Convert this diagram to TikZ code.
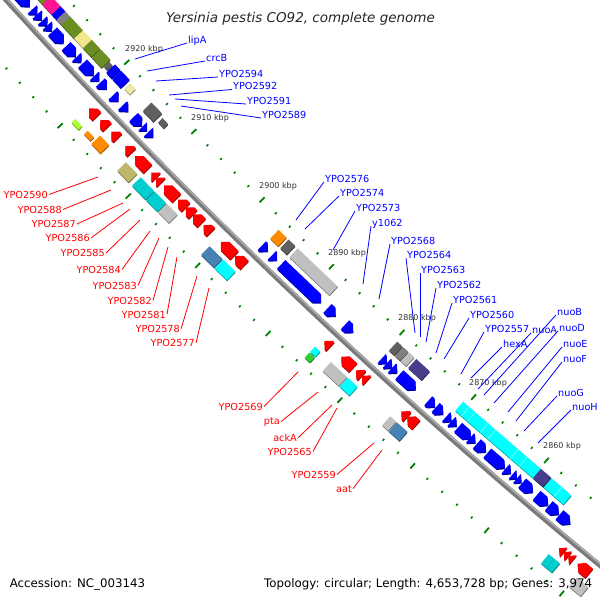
\documentclass[tikz,border=0pt]{standalone}
\usepackage{fontspec}
\setmainfont{DejaVu Sans}
\definecolor{cB}{HTML}{0000FF}
\definecolor{cR}{HTML}{FF0000}
\definecolor{cLG}{HTML}{C0C0C0}
\definecolor{cG}{HTML}{808080}
\definecolor{cDG}{HTML}{606060}
\definecolor{cCy}{HTML}{00FFFF}
\definecolor{cDT}{HTML}{00CED1}
\definecolor{cSB}{HTML}{4682B4}
\definecolor{cDSB}{HTML}{483D8B}
\definecolor{cOD}{HTML}{6B8E23}
\definecolor{cKh}{HTML}{F0E68C}
\definecolor{cPK}{HTML}{EEE8AA}
\definecolor{cDK}{HTML}{BDB76B}
\definecolor{cMg}{HTML}{FF1493}
\definecolor{cOr}{HTML}{FF8C00}
\definecolor{cGY}{HTML}{ADFF2F}
\definecolor{cLim}{HTML}{32CD32}
\definecolor{cTick}{HTML}{008000}
\definecolor{cBack}{HTML}{7A7A7A}
\definecolor{cBackL}{HTML}{ABABAB}
\newcommand{\cgat}[1]{%
 \pgfmathsetmacro\cgw{-12.73+0.0069*(#1)+((#1)/106.72)*((#1)/106.72)}%
 \pgfmathsetmacro\cga{atan(0.0069+(#1)/5695)}}
\newcommand{\cgB}[5]{%
 \pgfmathsetmacro\cguc{(#1+#2)/2}\pgfmathsetmacro\cgl{(#2-#1)/2}\pgfmathsetmacro\cghw{(#4)/2}%
 \cgat{\cguc}%
 \begin{scope}[shift={(\cguc,\cgw)},rotate=\cga,yshift=#3]
  \fill[#5!60!black] ({-\cgl+1},{-\cghw-0.7}) rectangle ({\cgl+1},{\cghw-0.7});
  \fill[#5] (-\cgl,-\cghw) rectangle (\cgl,\cghw);
 \end{scope}}
\newcommand{\cgArrow}[5]{%
 \pgfmathsetmacro\cguc{(#1+#2)/2}\pgfmathsetmacro\cgl{(#2-#1)/2}%
 \pgfmathsetmacro\cgk{\cgl-min(2*\cgl,6)}%
 \cgat{\cguc}%
 \begin{scope}[shift={(\cguc,\cgw)},rotate=\cga,yshift=#3,xscale=#5]
  \fill[#4!60!black,shift={(#5,-0.7)}] (-\cgl,-6) -- (\cgk,-6) -- (\cgl,0) -- (\cgk,6) -- (-\cgl,6) -- cycle;
  \fill[#4] (-\cgl,-6) -- (\cgk,-6) -- (\cgl,0) -- (\cgk,6) -- (-\cgl,6) -- cycle;
 \end{scope}}
\newcommand{\cgF}[2]{\cgArrow{#1}{#2}{13}{cB}{1}}
\newcommand{\cgR}[2]{\cgArrow{#1}{#2}{-13}{cR}{-1}}
\newcommand{\cgDiv}[3]{%
 \cgat{#1}%
 \begin{scope}[shift={(#1,\cgw)},rotate=\cga,yshift=#2]
  \draw[white!45!cCy,line width=0.7] (0,{-(#3)/2}) -- (0,{(#3)/2});
 \end{scope}}
\newcommand{\rlabel}[6]{\node[rlab] (#1) at (#3,-#4) {#2};
 \coordinate (#1-e) at (#5,-#6);
 \draw[rline] ([xshift=1pt]#1.east) -- (#1-e);}
\newcommand{\blabel}[6]{\node[blab] (#1) at (#3,-#4) {#2};
 \coordinate (#1-e) at (#5,-#6);
 \draw[bline] ([xshift=-1pt]#1.base west) -- (#1-e);}
\tikzset{
 rlab/.style={font=\fontsize{9.7}{11}\selectfont, text=cR, inner sep=0pt, anchor=base east},
 blab/.style={font=\fontsize{9.7}{11}\selectfont, text=cB, inner sep=0pt, anchor=base west},
 rline/.style={draw=cR, line width=0.8},
 bline/.style={draw=cB, line width=0.8},
 kbp/.style={font=\fontsize{8}{9}\selectfont, text=black!80, inner sep=0pt, anchor=base west},
}
\begin{document}
\begin{tikzpicture}[x=1pt,y=1pt]
\useasboundingbox (0,0) rectangle (600,-600);
\clip (0,0) rectangle (600,-600);
\begin{scope}[shift={(303.5,-286)},rotate=-43.96]
% ruler ticks
\foreach \p in {2840,2842,...,2940}{%
 \pgfmathsetmacro\ub{-284.5+(2920-\p)*9.72}%
 \pgfmathtruncatemacro\isd{mod(\p,10)==0 ? 1 : 0}%
 \cgat{\ub}%
 \begin{scope}[shift={(\ub,\cgw)},rotate=\cga]
  \ifnum\isd=1
   \fill[cTick] (-0.9,42.5) rectangle (0.9,49.5);
   \fill[cTick] (-0.9,-49.5) rectangle (0.9,-42.5);
  \else
   \fill[cTick] (-0.8,44.8) rectangle (0.8,47.2);
   \fill[cTick] (-0.8,-47.2) rectangle (0.8,-44.8);
  \fi
 \end{scope}}
% backbone
\draw[line width=5, cBack] plot[domain=-460:460,samples=60] (\x,{-12.73+0.0069*\x+(\x/106.72)^2});
\draw[line width=1.6, cBackL] plot[domain=-460:460,samples=60] (\x,{-11.3+0.0069*\x+(\x/106.72)^2});
% forward CDS (blue)
\cgF{-408}{-392}
\cgF{-388}{-381}\cgF{-381}{-374}
\cgF{-373}{-366}\cgF{-366}{-359}
\cgF{-358}{-342}
\cgF{-338}{-324}
\cgF{-323}{-316}
\cgF{-314}{-298}
\cgF{-297}{-290}
\cgF{-288}{-279}
\cgF{-270}{-262}
\cgF{-256}{-248}
\cgF{-240}{-228}
\cgF{-227}{-221}
\cgF{-219}{-212}
\cgF{-58}{-50}
\cgF{-44}{-37}
\cgF{-31}{24}
\cgF{33}{44}
\cgF{57}{68}
\cgF{107}{114}\cgF{114}{121}\cgF{121}{128}
\cgF{131}{153}
\cgF{170}{179}
\cgF{180}{190}
\cgF{194}{201}\cgF{201}{208}
\cgF{210}{227}
\cgF{226}{233}
\cgF{235}{247}
\cgF{249}{272}
\cgF{273}{280}
\cgF{282}{288}\cgF{288}{294}
\cgF{295}{309}
\cgF{314}{329}
\cgF{330}{343}
\cgF{344}{358}
% reverse CDS (red)
\cgR{-277}{-266}
\cgR{-261}{-251}
\cgR{-245}{-236}
\cgR{-225}{-216}
\cgR{-211}{-193}
\cgR{-188}{-181}\cgR{-181}{-174}
\cgR{-170}{-152}
\cgR{-150}{-139}
\cgR{-139}{-129}
\cgR{-129}{-117}
\cgR{-114}{-104}
\cgR{-90}{-71}
\cgR{-70}{-57}
\cgR{53}{61}
\cgR{76}{92}
\cgR{96}{104}\cgR{104}{111}
\cgR{157}{165}
\cgR{165}{177}
\cgR{365}{371}\cgR{371}{377}\cgR{377}{383}
\cgR{389}{404}
% forward COG boxes
\cgB{-397}{-385}{30}{12}{cOD}
\cgB{-385}{-371}{30}{12}{cMg}
\cgB{-371}{-364}{30}{12}{cB}
\cgB{-364}{-357}{30}{12}{cG}
\cgB{-357}{-338}{30}{12}{cOD}
\cgB{-338}{-325}{30}{12}{cKh}
\cgB{-325}{-313}{30}{12}{cOD}
\cgB{-312}{-298}{30}{12}{cOD}
\cgB{-297}{-292}{30}{7}{cDG}
\cgB{-291}{-283}{30}{12}{cB}
\cgB{-282}{-270}{30}{12}{cB}
\cgB{-267}{-259}{30}{8}{cPK}
\cgB{-238}{-223}{30}{12}{cDG}
\cgB{-219}{-211}{30}{6}{cDG}
\cgB{-57}{-46}{30}{12}{cOr}
\cgB{-43}{-34}{30}{12}{cDG}
\cgB{-30}{25}{30}{12}{cLG}
\cgB{107}{114}{30}{12}{cDG}
\cgB{115}{122}{30}{12}{cG}
\cgB{123}{130}{30}{12}{cLG}
\cgB{133}{151}{30}{12}{cDSB}
\cgB{197}{340}{30}{12}{cCy}
\cgDiv{205}{30}{12}\cgDiv{213}{30}{12}\cgDiv{230}{30}{12}\cgDiv{240}{30}{12}
\cgDiv{270}{30}{12}\cgDiv{282}{30}{12}\cgDiv{328}{30}{12}
\cgB{300}{313}{30}{12}{cDSB}
% reverse COG boxes
\cgB{-279}{-269}{-33}{5}{cGY}
\cgB{-262}{-253}{-32}{5}{cOr}
\cgB{-250}{-237}{-30}{12}{cOr}
\cgB{-213}{-197}{-30}{12}{cDK}
\cgB{-192}{-183}{-30}{12}{cDT}
\cgB{-183}{-173}{-30}{12}{cDT}
\cgB{-172}{-156}{-30}{12}{cDT}
\cgB{-155}{-140}{-30}{12}{cLG}
\cgB{-95}{-77}{-30}{12}{cSB}
\cgB{-76}{-59}{-30}{12}{cCy}
\cgB{50}{57}{-35}{7}{cLim}
\cgB{50}{57}{-27}{7}{cCy}
\cgB{72}{94}{-30}{12}{cLG}
\cgB{95}{108}{-30}{12}{cCy}
\cgB{152}{160}{-30}{12}{cLG}
\cgB{161}{175}{-30}{12}{cSB}
\cgB{361}{368}{-30}{12}{cDT}
\cgB{368}{375}{-30}{12}{cDT}
\cgB{397}{412}{-30}{12}{cLG}
\end{scope}
% ruler labels
\node[kbp] (k2920) at (125,-51.5) {2920 kbp};
\node[kbp] (k2910) at (191,-120) {2910 kbp};
\node[kbp] (k2900) at (259,-188.5) {2900 kbp};
\node[kbp] (k2890) at (328,-255) {2890 kbp};
\node[kbp] (k2880) at (398,-320) {2880 kbp};
\node[kbp] (k2870) at (469,-385) {2870 kbp};
\node[kbp] (k2860) at (543,-448) {2860 kbp};
% red labels
\rlabel{r2590}{YPO2590}{48}{198}{98}{177}
\rlabel{r2588}{YPO2588}{62}{213}{111}{190}
\rlabel{r2587}{YPO2587}{76}{227.5}{123}{203}
\rlabel{r2586}{YPO2586}{90}{241.5}{130}{209}
\rlabel{r2585}{YPO2585}{105}{256.5}{140}{220}
\rlabel{r2584}{YPO2584}{121}{273}{150}{231}
\rlabel{r2583}{YPO2583}{137}{289}{159}{238}
\rlabel{r2582}{YPO2582}{152}{304}{168}{247}
\rlabel{r2581}{YPO2581}{166}{318}{177}{257}
\rlabel{r2578}{YPO2578}{180}{332.5}{197}{276}
\rlabel{r2577}{YPO2577}{195}{346.5}{209}{288}
\rlabel{r2569}{YPO2569}{263}{410}{298}{372}
\rlabel{rpta}{pta}{280}{424}{318}{392}
\rlabel{rackA}{ackA}{297}{441.5}{332}{405}
\rlabel{r2565}{YPO2565}{312}{455}{337}{408}
\rlabel{r2559}{YPO2559}{336}{478}{374}{443}
\rlabel{raat}{aat}{352}{492}{382}{450}
% blue labels
\blabel{blipA}{lipA}{188}{43}{135}{59}
\blabel{bcrcB}{crcB}{206}{61}{147}{71}
\blabel{b2594}{YPO2594}{219}{77}{156}{81}
\blabel{b2592}{YPO2592}{233}{89.5}{169}{95}
\blabel{b2591}{YPO2591}{247}{104}{175}{99}
\blabel{b2589}{YPO2589}{262}{118}{181}{106}
\blabel{b2576}{YPO2576}{325}{182}{296}{220}
\blabel{b2574}{YPO2574}{340}{196}{305}{229}
\blabel{b2573}{YPO2573}{356}{211}{333}{250}
\blabel{by1062}{y1062}{372}{226}{363}{284}
\blabel{b2568}{YPO2568}{391}{244}{379}{299}
\blabel{b2564}{YPO2564}{407}{258}{415}{333}
\blabel{b2563}{YPO2563}{421}{273}{420}{337}
\blabel{b2562}{YPO2562}{437}{288}{426}{342}
\blabel{b2561}{YPO2561}{453}{303}{436}{353}
\blabel{b2560}{YPO2560}{470}{318}{444}{359}
\blabel{b2557}{YPO2557}{485}{332}{461}{374}
\blabel{bhexA}{hexA}{503}{347}{471}{378}
\blabel{bnuoA}{nuoA}{532}{333}{478}{389}
\blabel{bnuoB}{nuoB}{557}{315}{484}{395}
\blabel{bnuoD}{nuoD}{559}{331}{494}{403}
\blabel{bnuoE}{nuoE}{563}{347}{508}{412}
\blabel{bnuoF}{nuoF}{563}{362}{516}{421}
\blabel{bnuoG}{nuoG}{558}{396}{524}{431}
\blabel{bnuoH}{nuoH}{572}{410}{538}{443}
% title and footer
\node[font=\fontsize{13.5}{16}\selectfont\itshape, text=black!85, anchor=base, inner sep=0pt] (title) at (300.5,-22.7) {Yersinia pestis CO92, complete genome};
\node[font=\fontsize{11.8}{14}\selectfont, anchor=base west, inner sep=0pt] (acc) at (9.6,-587) {Accession: NC\_003143};
\node[font=\fontsize{11.8}{14}\selectfont, anchor=base east, inner sep=0pt] (topo) at (592.3,-587) {Topology: circular; Length: 4,653,728 bp; Genes: 3,974};
\end{tikzpicture}
\end{document}
